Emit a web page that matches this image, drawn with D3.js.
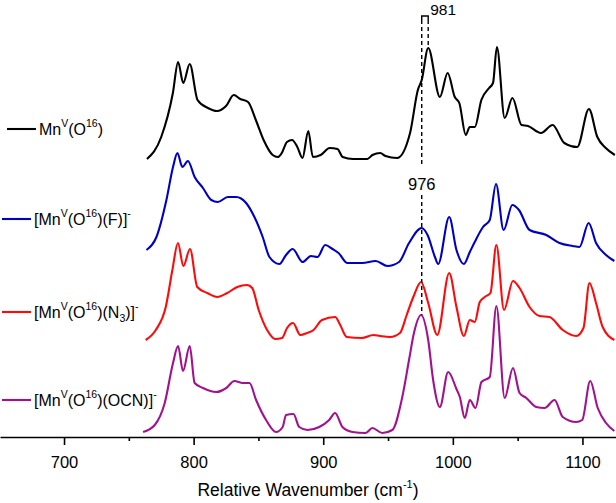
<!DOCTYPE html>
<html>
<head>
<meta charset="utf-8">
<script src="https://cdn.jsdelivr.net/npm/d3@7"></script>
<style>
  html, body { margin: 0; padding: 0; background: #fff; }
  svg { display: block; font-family: Arial, "Liberation Sans", Helvetica, sans-serif; }
</style>
</head>
<body>
<svg id="chart" width="616" height="503"></svg>
<script>
// ---------------- DATA ----------------
const seriesNames = ["MnV(O16)", "[MnV(O16)(F)]-", "[MnV(O16)(N3)]-", "[MnV(O16)(OCN)]-"];
const seriesColors = ["#000000", "#0000c4", "#ff0a0a", "#a0128e"];
const seriesOffsets = [277, 172, 97, 4]; // vertical stacking offsets (a.u.)

const blackWn = [764,775,784,788,792,797,803,811,818,825,831,836,842,848,854,861,865,868,872,876,880,884,888.5,892,898,905,911,915,923,934,938,944,948,957,967,973,976,981,990,996,1001.5,1005,1010,1013,1017,1022,1028,1031,1034,1040,1046,1053,1058,1068,1077,1086,1096,1105,1111.5,1118,1125];
const blackI  = [1,23,67,98,77,96,60,52,49,54,65,61,58,40,20,5,3,7,18,20,13,2,29,3,5,12,11,3,1,1,5,7,4,2,27,70,80,112,63,87,63,57,25,33,33,60,72,77,113,42,62,35,34,27,35,17,13,51,23,12,5];

const blueWn = [763.6,771.3,779,784.1,787.5,791.3,795.6,800.8,807.2,813.6,818.7,826.4,832.8,840.5,846.9,853.3,858.5,866.2,871.3,876.4,884.1,890.5,895.6,901.5,907.2,911.8,918.7,930.2,940.5,949.5,958.5,966.2,976,980.5,986.2,988.7,997.2,1002.8,1008.5,1013.1,1016.9,1023.3,1028.5,1033.3,1039.2,1045.9,1051,1059.2,1072.1,1082.3,1092.5,1097.7,1104.8,1110.5,1118.2,1124.6];
const blueI  = [15,28,65,98,112,98,104,88,77,65,63,68,68,62,48,28,8,1,10,16,3,9,8,20,16,12,2,2,4,-1,3,22,37,30,8,1,48,15,1,13,23,38,45,81,35,60,55,35,30,22,19,18,42,22,10,4];

const redWn = [763,770.8,778.5,783.6,787.9,792.1,797.2,802.8,810.5,818.2,825.9,833.6,841.3,845.2,850.2,856.7,863.1,868.2,872.1,876.7,882.3,887.5,892.5,899,909.2,913.1,918.2,929.8,938.7,943.8,951.5,959.2,964.4,969.5,975.5,981,988,997.2,1002.8,1008.5,1013.1,1016.9,1020.8,1024.6,1029,1033.6,1039.5,1046.4,1051.5,1059.2,1066.9,1074.6,1084.8,1095.2,1100.8,1105.4,1110.5,1115.6,1124.6];
const redI  = [0,10,33,70,97,74,91,53,47,43,47,53,55,52,30,10,1,2,12,17,5,7,10,20,23,15,3,2,5,4,3,7,25,43,58,37,5,67,33,4,20,18,38,43,47,95,30,59,52,33,24,23,10,4,12,57,37,13,0];

const purpleWn = [761,770,777.7,784.1,788,791.8,797,800.8,807.2,817.5,825.2,831.5,837.9,843.1,848.2,855.9,863.6,868.7,871.3,877,881.5,887.9,896.9,904.6,909.2,914.8,922.5,932.8,937.9,945.6,953.3,961,966.2,970,975.5,981,984.8,990,996.4,1002.8,1005.4,1009.2,1013.1,1017.5,1022.1,1028.5,1033.6,1040,1046.4,1051.5,1056.7,1064.4,1070.8,1078.5,1084.8,1095.2,1099.8,1106,1111.8,1118.2,1124.6];
const purpleI  = [1,8,30,70,87,62,87,50,45,41,45,52,50,50,33,13,1,6,18,19,6,3,6,13,20,6,1,0,5,0,3,36,73,100,118,93,53,26,61,44,36,15,33,25,51,56,127,35,65,40,35,26,25,33,16,11,13,52,25,10,2];

const majorTicks = [700, 800, 900, 1000, 1100];
const minorTicks = [750, 850, 950, 1050];
const xDomain = [650.6, 1125.9];
const axisTitle = "Relative Wavenumber (cm";

// peak annotations: label, wavenumber
const peak981 = {label: "981", wn: 981};
const peak976 = {label: "976", wn: 976};

// ---------------- CHART ----------------
const W = 616, H = 503;
const axisY = 437;
const svg = d3.select("#chart");

const x = d3.scaleLinear().domain(xDomain).range([0, W]);
const y = d3.scaleLinear().domain([0, axisY]).range([axisY, 0]);

const seriesData = [
  blackWn.map((w, i) => [w, blackI[i]]),
  blueWn.map((w, i) => [w, blueI[i]]),
  redWn.map((w, i) => [w, redI[i]]),
  purpleWn.map((w, i) => [w, purpleI[i]])
];

seriesData.forEach((pts, si) => {
  const line = d3.line()
    .x(d => x(d[0]))
    .y(d => y(d[1] + seriesOffsets[si]))
    .curve(d3.curveMonotoneX);
  svg.append("path")
    .attr("d", line(pts))
    .attr("fill", "none")
    .attr("stroke", seriesColors[si])
    .attr("stroke-width", 2.1)
    .attr("stroke-linejoin", "round");
});

// axis
const gx = svg.append("g").attr("transform", `translate(0,${axisY})`);
gx.call(d3.axisBottom(x).tickValues(majorTicks).tickSize(8).tickSizeOuter(0).tickPadding(11).tickFormat(d3.format("d")));
gx.select(".domain").attr("stroke", "#000").attr("stroke-width", 1.6);
gx.selectAll(".tick line").attr("stroke", "#000").attr("stroke-width", 1.6);
gx.selectAll(".tick text").attr("font-size", "16.5px").attr("fill", "#000").attr("font-family", "Arial, 'Liberation Sans', sans-serif");
const gm = svg.append("g").attr("transform", `translate(0,${axisY})`);
gm.call(d3.axisBottom(x).tickValues(minorTicks).tickSize(4).tickSizeOuter(0).tickFormat(""));
gm.select(".domain").remove();
gm.selectAll(".tick line").attr("stroke", "#000").attr("stroke-width", 1.6);

// axis title
const title = svg.append("text")
  .attr("x", W / 2).attr("y", 496)
  .attr("text-anchor", "middle")
  .attr("font-size", "17.5px").attr("fill", "#000");
title.append("tspan").text(axisTitle);
title.append("tspan").attr("dy", -8).attr("font-size", "11px").text("-1");
title.append("tspan").attr("dy", 8).text(")");

// legend
const legendY = [129, 219, 312, 400];
const legendX0 = [7, 2, 2, 2];
const legendParts = [
  [["Mn",0],["V",1],["(O",0],["16",1],[")",0]],
  [["[Mn",0],["V",1],["(O",0],["16",1],[")(F)]",0],["-",1]],
  [["[Mn",0],["V",1],["(O",0],["16",1],[")(N",0],["3",-1],[")]",0],["-",1]],
  [["[Mn",0],["V",1],["(O",0],["16",1],[")(OCN)]",0],["-",1]]
];
legendParts.forEach((parts, si) => {
  const ly = legendY[si];
  const x0 = legendX0[si];
  svg.append("line")
    .attr("x1", x0).attr("x2", x0 + 29)
    .attr("y1", ly).attr("y2", ly)
    .attr("stroke", seriesColors[si]).attr("stroke-width", 2.1);
  const t = svg.append("text")
    .attr("x", x0 + 32).attr("y", ly + 6)
    .attr("font-size", "16px").attr("fill", "#000");
  let cur = 0;
  parts.forEach(([s, k]) => {
    const target = k === 1 ? -8 : (k === -1 ? 4 : 0);
    const ts = t.append("tspan").attr("dy", target - cur).text(s);
    if (k !== 0) ts.attr("font-size", "10.5px");
    cur = target;
  });
});

// annotations
const dashStyle = sel => sel.attr("stroke", "#000").attr("stroke-width", 1.4).attr("stroke-dasharray", "4,3").attr("fill", "none");
const bracketTop = 421;
// bracket
svg.append("path")
  .attr("d", `M${x(peak976.wn)},${y(bracketTop) + 4}V${y(bracketTop)}H${x(peak981.wn)}V${y(bracketTop) + 4}`)
  .attr("stroke", "#000").attr("stroke-width", 1.4).attr("fill", "none");
svg.append("line").call(dashStyle)
  .attr("x1", x(peak976.wn)).attr("x2", x(peak976.wn))
  .attr("y1", y(bracketTop) + 4).attr("y2", y(272));
svg.append("line").call(dashStyle)
  .attr("x1", x(peak981.wn)).attr("x2", x(peak981.wn))
  .attr("y1", y(bracketTop) + 4).attr("y2", y(seriesOffsets[0] + 112));
svg.append("text")
  .attr("x", x(peak981.wn) + 2).attr("y", y(bracketTop) - 1)
  .attr("font-size", "15.5px").attr("fill", "#000").text(peak981.label);
// 976 lower
svg.append("text")
  .attr("x", x(peak976.wn)).attr("y", y(247))
  .attr("text-anchor", "middle")
  .attr("font-size", "16.5px").attr("fill", "#000").text(peak976.label);
svg.append("line").call(dashStyle)
  .attr("x1", x(peak976.wn)).attr("x2", x(peak976.wn))
  .attr("y1", y(242)).attr("y2", y(seriesOffsets[3] + 118));
</script>
</body>
</html>
